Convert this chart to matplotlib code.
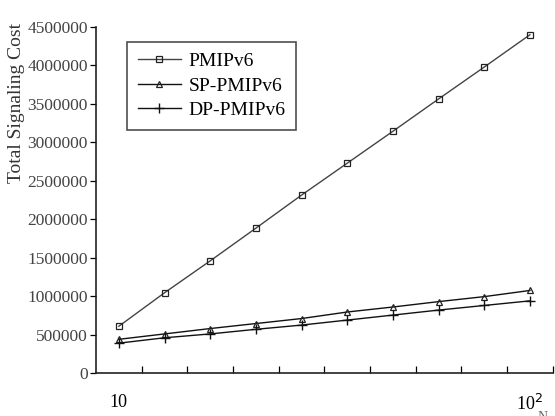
import numpy as np
import matplotlib.pyplot as plt

plt.rcParams['font.family'] = ['Liberation Serif', 'DejaVu Serif']

# data
n = [10, 20, 30, 40, 50, 60, 70, 80, 90, 100]
pmip = [610000, 1045000, 1460000, 1885000, 2315000, 2730000, 3145000, 3565000, 3980000, 4400000]
sp_pmip = [440000, 510000, 580000, 645000, 710000, 795000, 860000, 930000, 995000, 1075000]
dp_pmip = [390000, 460000, 510000, 570000, 625000, 690000, 755000, 820000, 880000, 940000]

fig = plt.figure(figsize=(5.55, 4.16), dpi=100)
ax = fig.add_axes([0.173, 0.103, 0.823, 0.832])

ax.plot(n, pmip, color='#444444', lw=1.0, marker='s', ms=5, mfc='none', mec='#222222', mew=0.9, label='PMIPv6')
ax.plot(n, sp_pmip, color='#111111', lw=1.0, marker='^', ms=5, mfc='none', mec='#222222', mew=0.9, label='SP-PMIPv6')
ax.plot(n, dp_pmip, color='#111111', lw=1.0, marker='+', ms=7, mec='#111111', mew=1.0, label='DP-PMIPv6')

ax.set_xlim(5, 105)
ax.set_ylim(0, 4500000)
ax.set_yticks(np.arange(0, 4500001, 500000))
ax.set_yticklabels([str(v) for v in range(0, 4500001, 500000)], fontsize=12.5, color='#444444')
ax.tick_params(axis='y', direction='out', length=4, width=0.9, pad=2)

ax.set_xticks([10, 100])
ax.set_xticklabels(['10', r'10$^{2}$'], fontsize=13)
ax.tick_params(axis='x', which='major', length=0, pad=15)
ax.set_xticks(np.arange(15, 106, 10), minor=True)
ax.tick_params(axis='x', which='minor', direction='in', length=5, width=0.9)

for s in ['top', 'right']:
    ax.spines[s].set_visible(False)
for s in ['left', 'bottom']:
    ax.spines[s].set_linewidth(1.2)
    ax.spines[s].set_color('#222222')

ax.set_ylabel('Total Signaling Cost', fontsize=14, color='#333333')
ax.yaxis.set_label_coords(-0.155, 0.78)

leg = ax.legend(loc='upper left', bbox_to_anchor=(0.068, 0.957), borderaxespad=0,
                fontsize=14, fancybox=False, edgecolor='#222222', handlelength=2.2,
                borderpad=0.55, labelspacing=0.35, handletextpad=0.4)
leg.get_frame().set_linewidth(1.2)

fig.text(0.968, -0.012, 'N', fontsize=10, color='#666666')

fig.savefig('out.png', dpi=100)
